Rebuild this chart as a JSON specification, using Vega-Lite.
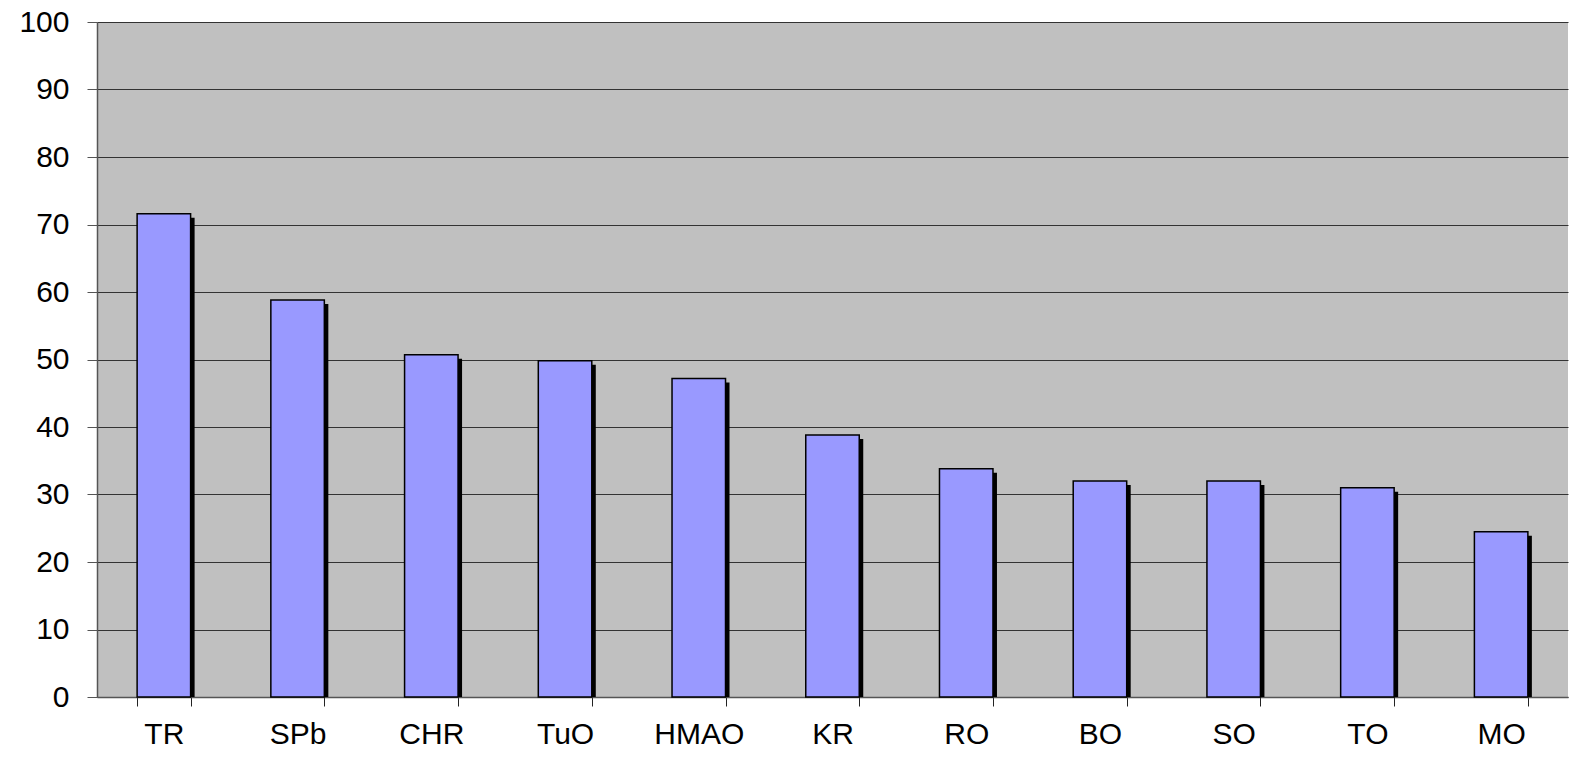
{
  "$schema": "https://vega.github.io/schema/vega-lite/v6.json",
  "width": 1471,
  "height": 675,
  "autosize": {"type": "none"},
  "padding": {"left": 97, "top": 22, "right": 13, "bottom": 61},
  "background": "white",
  "config": {
    "view": {"fill": "#c0c0c0", "stroke": null},
    "font": "Liberation Sans"
  },
  "data": {
    "values": [
      {"region": "TR", "value": 71.6},
      {"region": "SPb", "value": 58.8},
      {"region": "CHR", "value": 50.7},
      {"region": "TuO", "value": 49.8},
      {"region": "HMAO", "value": 47.2},
      {"region": "KR", "value": 38.8},
      {"region": "RO", "value": 33.8},
      {"region": "BO", "value": 32.0},
      {"region": "SO", "value": 32.0},
      {"region": "TO", "value": 31.0},
      {"region": "MO", "value": 24.5}
    ]
  },
  "encoding": {
    "x": {
      "field": "region",
      "type": "nominal",
      "sort": null,
      "scale": {"paddingInner": 0.6, "paddingOuter": 0.3},
      "axis": {
        "title": null,
        "labelAngle": 0,
        "labelFontSize": 30,
        "labelColor": "black",
        "labelPadding": 13,
        "tickBand": "extent",
        "tickSize": 9,
        "tickColor": "#222222",
        "domainColor": "#555555",
        "domainWidth": 1.5,
        "grid": false
      }
    },
    "y": {
      "field": "value",
      "type": "quantitative",
      "scale": {"domain": [0, 100], "nice": false},
      "axis": {
        "title": null,
        "values": [0, 10, 20, 30, 40, 50, 60, 70, 80, 90, 100],
        "labelFontSize": 30,
        "labelColor": "black",
        "labelPadding": 18,
        "tickSize": 10,
        "tickColor": "#555555",
        "domainColor": "#555555",
        "domainWidth": 1.5,
        "gridColor": "#333333",
        "gridWidth": 1.2
      }
    }
  },
  "layer": [
    {
      "mark": {"type": "bar", "color": "black", "xOffset": 4, "yOffset": 4, "clip": true}
    },
    {
      "mark": {"type": "bar", "fill": "#9999ff", "stroke": "black", "strokeWidth": 1.5}
    }
  ]
}
